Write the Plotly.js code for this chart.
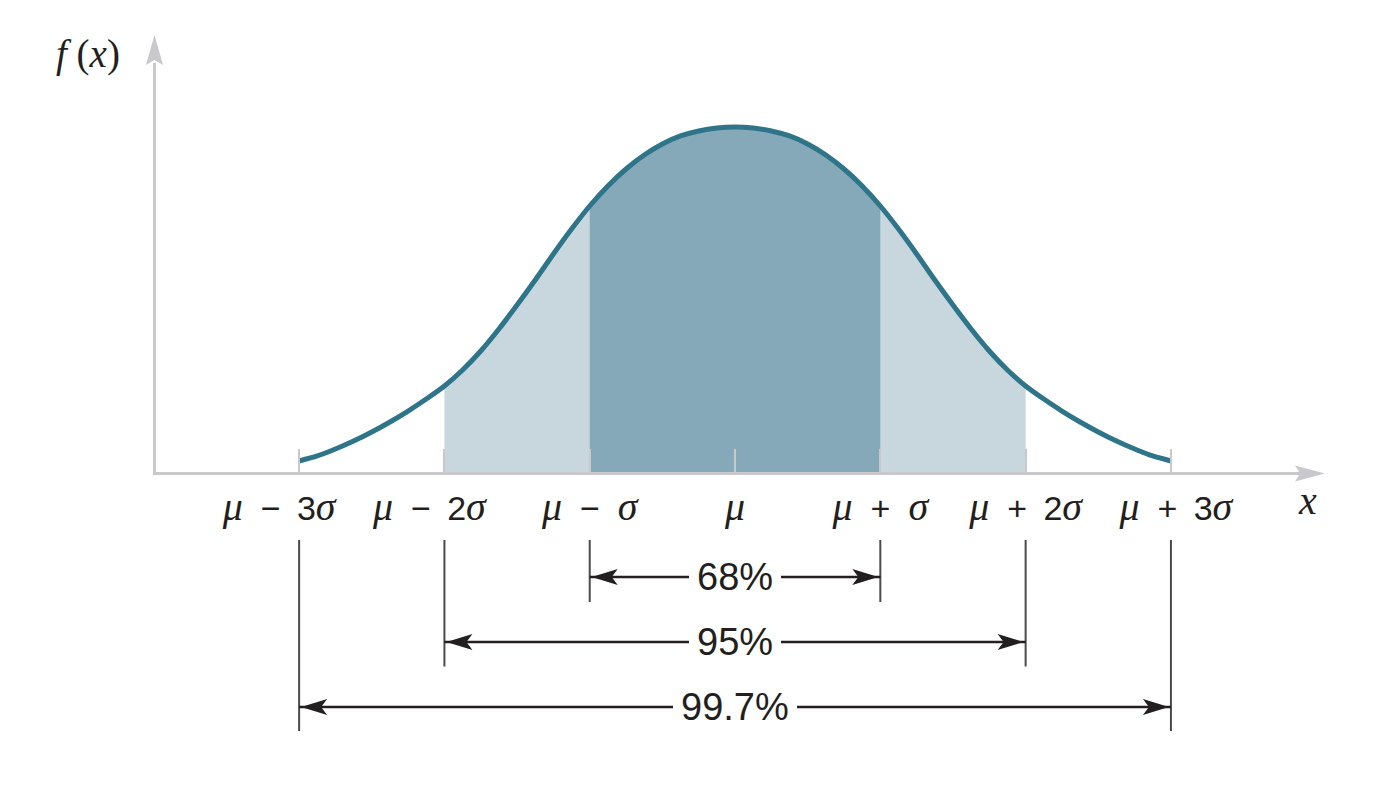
<!DOCTYPE html>
<html><head><meta charset="utf-8">
<script src="https://cdn.plot.ly/plotly-3.0.1.min.js"></script>
<style>html,body{margin:0;padding:0;background:#fff}#chart{width:1386px;height:808px}</style>
</head><body><div id="chart"></div>
<script>
// ---- data (x in units of sigma from the mean; y = relative density f(x)) ----
const sigmaTicks = [-3, -2, -1, 0, 1, 2, 3];
const SANS = '<span style="font-family:Liberation Sans;font-size:34px">';
const SP = '\u00a0\u2009';
const tickLabels = [
  '<i>μ</i>' + SP + SANS + '−' + SP + '3</span><i>σ</i>\u00a0\u00a0\u00a0\u00a0',
  '<i>μ</i>' + SP + SANS + '−' + SP + '2</span><i>σ</i>\u00a0\u00a0\u00a0',
  '<i>μ</i>' + SP + SANS + '−</span>' + SP + '<i>σ</i>',
  '<i>μ</i>',
  '<i>μ</i>' + SP + SANS + '+</span>' + SP + '<i>σ</i>',
  '<i>μ</i>' + SP + SANS + '+' + SP + '2</span><i>σ</i>',
  '\u00a0<i>μ</i>' + SP + SANS + '+' + SP + '3</span><i>σ</i>'
];
const curveX = [-3, -2.875, -2.75, -2.625, -2.5, -2.375, -2.25, -2.125, -2, -1.875, -1.75, -1.625, -1.5,
                -1.375, -1.25, -1.125, -1, -0.875, -0.75, -0.625, -0.5, -0.375, -0.25, -0.125, 0,
                0.125, 0.25, 0.375, 0.5, 0.625, 0.75, 0.875, 1, 1.125, 1.25, 1.375, 1.5,
                1.625, 1.75, 1.875, 2, 2.125, 2.25, 2.375, 2.5, 2.625, 2.75, 2.875, 3];
const curveY = [0.0128, 0.0186, 0.0267, 0.0359, 0.0464, 0.0580, 0.0707, 0.0846, 0.0997, 0.1183, 0.1403, 0.1658, 0.1936,
                0.2226, 0.2528, 0.2817, 0.3084, 0.3316, 0.3513, 0.3675, 0.3803, 0.3896, 0.3954, 0.3988, 0.4000,
                0.3988, 0.3954, 0.3896, 0.3803, 0.3675, 0.3513, 0.3316, 0.3084, 0.2817, 0.2528, 0.2226, 0.1936,
                0.1658, 0.1403, 0.1183, 0.0997, 0.0846, 0.0707, 0.0580, 0.0464, 0.0359, 0.0267, 0.0186, 0.0128];
const bandK = [1, 2, 3];
const bandLabels = ['68%', '95%', '99.7%'];

// ---- styles ----
const CURVE = '#2e7589', LIGHT = '#c8d6dd', DARK = '#86a9b9', AXIS = '#c9c9cd', INK = '#231f20';

function band(k) {
  const xs = [], ys = [];
  curveX.forEach((x, i) => { if (Math.abs(x) <= k + 1e-9) { xs.push(x); ys.push(curveY[i]); } });
  return {xs, ys};
}
const b2 = band(2), b1 = band(1);

const traces = [
  {x: b2.xs, y: b2.ys, type: 'scatter', mode: 'lines', fill: 'tozeroy', fillcolor: LIGHT,
   line: {width: 0, shape: 'spline', smoothing: 0.8, color: LIGHT}, hoverinfo: 'skip'},
  {x: b1.xs, y: b1.ys, type: 'scatter', mode: 'lines', fill: 'tozeroy', fillcolor: DARK,
   line: {width: 0, shape: 'spline', smoothing: 0.8, color: DARK}, hoverinfo: 'skip'},
  {x: curveX, y: curveY, type: 'scatter', mode: 'lines',
   line: {width: 5, shape: 'spline', smoothing: 0.8, color: CURVE}, hoverinfo: 'skip'}
];

const shapes = [], annotations = [];
// axis arrowheads
shapes.push({type: 'path', xref: 'paper', yref: 'paper', xsizemode: 'pixel', ysizemode: 'pixel',
  xanchor: 1, yanchor: 0, path: 'M-8,6.5 L22,-1.5 L-8,-9.5 L-3,-1.5 Z', fillcolor: AXIS, line: {width: 0}, layer: 'above'});
shapes.push({type: 'path', xref: 'paper', yref: 'paper', xsizemode: 'pixel', ysizemode: 'pixel',
  xanchor: 0, yanchor: 1, path: 'M-10,-2 L-1.5,28 L7,-2 L-1.5,3 Z', fillcolor: AXIS, line: {width: 0}, layer: 'above'});

bandK.forEach((k, i) => {
  const yLine = -105 - i * 65;
  const yEnd = -130 - i * 64.5;
  [-1, 1].forEach(s => {
    shapes.push({type: 'line', xref: 'x', yref: 'paper', ysizemode: 'pixel', yanchor: 0,
      x0: s * k, x1: s * k, y0: -68, y1: yEnd, line: {color: '#4a4a4c', width: 2}});
    shapes.push({type: 'path', xref: 'x', yref: 'paper', xsizemode: 'pixel', ysizemode: 'pixel',
      xanchor: s * k, yanchor: 0,
      path: 'M' + (-s * 2) + ',' + yLine + ' L' + (-s * 28) + ',' + (yLine + 8) + ' L' + (-s * 22) + ',' + yLine +
            ' L' + (-s * 28) + ',' + (yLine - 8) + ' Z',
      fillcolor: INK, line: {width: 0}});
  });
  shapes.push({type: 'line', xref: 'x', yref: 'paper', ysizemode: 'pixel', yanchor: 0,
    x0: -k, x1: k, y0: yLine, y1: yLine, line: {color: INK, width: 2.5}});
  annotations.push({x: 0, xref: 'x', y: 0, yref: 'paper', yshift: yLine, yanchor: 'middle', xanchor: 'center',
    text: bandLabels[i], showarrow: false, bgcolor: '#ffffff', borderpad: 8, borderwidth: 0,
    font: {family: 'Liberation Sans', size: 38, color: INK}});
});

annotations.push({x: 0, xref: 'paper', xshift: -68, xanchor: 'center', y: 1, yref: 'paper', yshift: 9, yanchor: 'middle',
  text: '<i>f</i>\u00a0(<i>x</i>)', showarrow: false, font: {family: 'Liberation Serif', size: 39, color: INK}});
annotations.push({x: 1, xref: 'paper', xshift: 4, xanchor: 'center', y: 0, yref: 'paper', yshift: -28, yanchor: 'middle',
  text: '<i>x</i>', showarrow: false, font: {family: 'Liberation Serif', size: 40, color: INK}});

const layout = {
  width: 1386, height: 808,
  margin: {l: 156, r: 83, t: 63, b: 336},
  paper_bgcolor: '#fff', plot_bgcolor: '#fff',
  showlegend: false,
  xaxis: {range: [-3.985, 3.909], showline: true, linecolor: AXIS, linewidth: 3,
    ticks: 'inside', ticklen: 23, tickwidth: 2, tickcolor: AXIS,
    tickmode: 'array', tickvals: sigmaTicks, ticktext: tickLabels, tickangle: 0,
    tickfont: {family: 'Liberation Serif', size: 40, color: INK}, ticklabelstandoff: -3,
    showgrid: false, zeroline: false, fixedrange: true},
  yaxis: {range: [0, 0.4742], showline: true, linecolor: AXIS, linewidth: 3,
    ticks: '', showticklabels: false, showgrid: false, zeroline: false, fixedrange: true},
  shapes: shapes, annotations: annotations
};
Plotly.newPlot('chart', traces, layout, {displayModeBar: false, staticPlot: true});
</script></body></html>
